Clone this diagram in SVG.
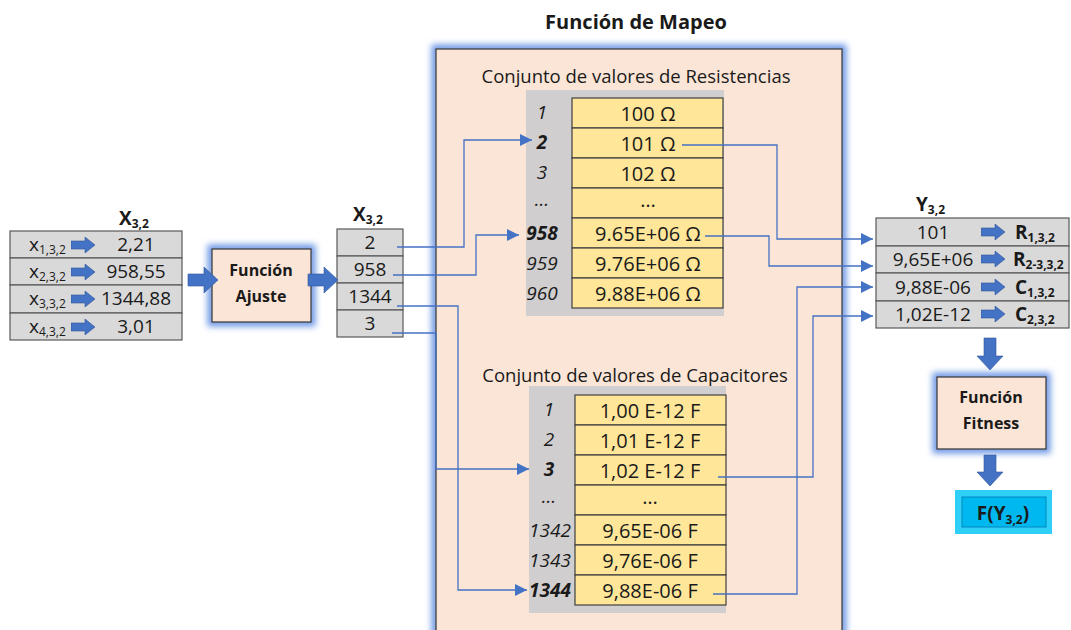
<svg xmlns="http://www.w3.org/2000/svg" width="1071" height="630" viewBox="0 0 1071 630">
  <defs>
    <style>
      text { font-family: "Open Sans", "Noto Sans", "Liberation Sans", sans-serif; fill: #1a1a1a; }
      .v { font-size: 19px; }
      .w { font-size: 20px; }
      .cap { font-size: 18.5px; }
      .box { font-size: 16px; font-weight: bold; }
      .hd { font-size: 19px; font-weight: bold; }
      .ttl { font-size: 20px; font-weight: bold; }
      .sub { font-size: 12px; }
      .b { font-weight: bold; }
      .it { font-style: italic; }
      .mid { text-anchor: middle; }
      .cellG { fill: #D9D9D9; stroke: #595959; stroke-width: 1.2; }
      .cellY { fill: #FFE699; stroke: #404040; stroke-width: 1.2; }
      .panel { fill: #FBE5D6; stroke: #404040; stroke-width: 1.3; }
      .halo { fill: none; stroke: #6E98E6; stroke-width: 9; }
      .wire { fill: none; stroke: #4472C4; stroke-width: 1.3; }
      .blk { fill: #4472C4; stroke: #2F5597; stroke-width: 0.6; }
    </style>
    <filter id="soft" x="-20%" y="-20%" width="140%" height="140%">
      <feGaussianBlur stdDeviation="3"/>
    </filter>
    <marker id="tip" markerUnits="userSpaceOnUse" markerWidth="12" markerHeight="12" refX="12" refY="6" orient="auto">
      <path d="M0,0 L12,6 L0,12 Z" fill="#4472C4"/>
    </marker>
    <!-- small block arrow used inside the value tables -->
    <symbol id="smallArrow" viewBox="0 0 24 16" width="24" height="16">
      <path d="M0,4 H14 V0 L24,8 L14,16 V12 H0 Z" fill="#4472C4" stroke="#2F5597" stroke-width="0.6"/>
    </symbol>
  </defs>

  <rect width="1071" height="630" fill="#ffffff"/>

  <!-- Mapping panel -->
  <g id="mapeo">
    <rect x="436" y="49" width="406" height="600" class="halo" filter="url(#soft)"/>
    <rect x="436" y="49" width="406" height="600" class="panel"/>
    <text x="636" y="29" class="ttl mid">Función de Mapeo</text>
  </g>

  <!-- Input vector -->
  <g id="x-input">
    <text x="119" y="225" class="hd">X<tspan class="sub b" dy="3">3,2</tspan></text>
    <rect x="10" y="231" width="172" height="27" class="cellG"/>
    <rect x="10" y="258" width="172" height="27" class="cellG"/>
    <rect x="10" y="285" width="172" height="28" class="cellG"/>
    <rect x="10" y="313" width="172" height="27" class="cellG"/>
    <text x="29" y="251" class="v">x<tspan class="sub" dy="3">1,3,2</tspan></text>
    <text x="29" y="278" class="v">x<tspan class="sub" dy="3">2,3,2</tspan></text>
    <text x="29" y="305" class="v">x<tspan class="sub" dy="3">3,3,2</tspan></text>
    <text x="29" y="333" class="v">x<tspan class="sub" dy="3">4,3,2</tspan></text>
    <use href="#smallArrow" x="71" y="237"/>
    <use href="#smallArrow" x="71" y="264"/>
    <use href="#smallArrow" x="71" y="291"/>
    <use href="#smallArrow" x="71" y="319"/>
    <text x="136" y="251" class="v mid">2,21</text>
    <text x="136" y="278" class="v mid">958,55</text>
    <text x="136" y="305" class="v mid">1344,88</text>
    <text x="136" y="333" class="v mid">3,01</text>
  </g>

  <!-- Adjustment function -->
  <g id="ajuste">
    <rect x="212" y="249" width="99" height="73" class="halo" filter="url(#soft)"/>
    <rect x="212" y="249" width="99" height="73" class="panel"/>
    <text x="261" y="276" class="box mid">Función</text>
    <text x="261" y="302" class="box mid">Ajuste</text>
  </g>

  <!-- Adjusted vector -->
  <g id="x-adjusted">
    <text x="353" y="221" class="hd">X<tspan class="sub b" dy="3">3,2</tspan></text>
    <rect x="337" y="229" width="66" height="27" class="cellG"/>
    <rect x="337" y="256" width="66" height="27" class="cellG"/>
    <rect x="337" y="283" width="66" height="27" class="cellG"/>
    <rect x="337" y="310" width="66" height="27" class="cellG"/>
    <text x="370" y="249" class="v mid">2</text>
    <text x="370" y="276" class="v mid">958</text>
    <text x="370" y="303" class="v mid">1344</text>
    <text x="370" y="330" class="v mid">3</text>
  </g>

  <!-- Resistor value set -->
  <g id="resistencias">
    <text x="636" y="83" class="cap mid">Conjunto de valores de Resistencias</text>
    <rect x="526" y="90" width="198" height="226" fill="#D0CECE"/>
    <rect x="572" y="98" width="151" height="30" class="cellY"/>
    <rect x="572" y="128" width="151" height="30" class="cellY"/>
    <rect x="572" y="158" width="151" height="30" class="cellY"/>
    <rect x="572" y="188" width="151" height="30" class="cellY"/>
    <rect x="572" y="218" width="151" height="30" class="cellY"/>
    <rect x="572" y="248" width="151" height="30" class="cellY"/>
    <rect x="572" y="278" width="151" height="30" class="cellY"/>
    <g class="v it">
      <text x="542" y="119" class="mid">1</text>
      <text x="542" y="149" class="mid b">2</text>
      <text x="542" y="179" class="mid">3</text>
      <text x="542" y="206" class="mid">…</text>
      <text x="542" y="240" class="mid b">958</text>
      <text x="542" y="270" class="mid">959</text>
      <text x="542" y="300" class="mid">960</text>
    </g>
    <g class="w">
      <text x="648" y="121" class="mid">100 Ω</text>
      <text x="648" y="151" class="mid">101 Ω</text>
      <text x="648" y="181" class="mid">102 Ω</text>
      <text x="648" y="207" class="mid">…</text>
      <text x="648" y="241" class="mid">9.65E+06 Ω</text>
      <text x="648" y="271" class="mid">9.76E+06 Ω</text>
      <text x="648" y="301" class="mid">9.88E+06 Ω</text>
    </g>
  </g>

  <!-- Capacitor value set -->
  <g id="capacitores">
    <text x="635" y="382" class="cap mid">Conjunto de valores de Capacitores</text>
    <rect x="529" y="386" width="197" height="227" fill="#D0CECE"/>
    <rect x="575" y="395" width="151" height="30" class="cellY"/>
    <rect x="575" y="425" width="151" height="30" class="cellY"/>
    <rect x="575" y="455" width="151" height="30" class="cellY"/>
    <rect x="575" y="485" width="151" height="30" class="cellY"/>
    <rect x="575" y="515" width="151" height="30" class="cellY"/>
    <rect x="575" y="545" width="151" height="30" class="cellY"/>
    <rect x="575" y="575" width="151" height="30" class="cellY"/>
    <g class="v it">
      <text x="549" y="416" class="mid">1</text>
      <text x="549" y="446" class="mid">2</text>
      <text x="549" y="476" class="mid b">3</text>
      <text x="549" y="503" class="mid">…</text>
      <text x="550" y="537" class="mid">1342</text>
      <text x="550" y="567" class="mid">1343</text>
      <text x="550" y="597" class="mid b">1344</text>
    </g>
    <g class="w">
      <text x="650" y="418" class="mid">1,00 E-12 F</text>
      <text x="650" y="448" class="mid">1,01 E-12 F</text>
      <text x="650" y="478" class="mid">1,02 E-12 F</text>
      <text x="650" y="504" class="mid">…</text>
      <text x="650" y="538" class="mid">9,65E-06 F</text>
      <text x="650" y="568" class="mid">9,76E-06 F</text>
      <text x="650" y="598" class="mid">9,88E-06 F</text>
    </g>
  </g>

  <!-- Output vector -->
  <g id="y-output">
    <text x="916" y="211" class="hd">Y<tspan class="sub b" dy="3">3,2</tspan></text>
    <rect x="876" y="218" width="193" height="28" class="cellG"/>
    <rect x="876" y="246" width="193" height="27" class="cellG"/>
    <rect x="876" y="273" width="193" height="28" class="cellG"/>
    <rect x="876" y="301" width="193" height="27" class="cellG"/>
    <text x="933" y="239" class="v mid">101</text>
    <text x="933" y="266" class="v mid">9,65E+06</text>
    <text x="933" y="294" class="v mid">9,88E-06</text>
    <text x="933" y="321" class="v mid">1,02E-12</text>
    <use href="#smallArrow" x="981" y="224"/>
    <use href="#smallArrow" x="981" y="251"/>
    <use href="#smallArrow" x="981" y="279"/>
    <use href="#smallArrow" x="981" y="306"/>
    <text x="1015" y="239" class="v b">R<tspan class="sub" dy="3">1,3,2</tspan></text>
    <text x="1013" y="266" class="v b">R<tspan class="sub" dy="3">2-3,3,2</tspan></text>
    <text x="1015" y="294" class="v b">C<tspan class="sub" dy="3">1,3,2</tspan></text>
    <text x="1015" y="321" class="v b">C<tspan class="sub" dy="3">2,3,2</tspan></text>
  </g>

  <!-- Fitness function -->
  <g id="fitness">
    <rect x="937" y="377" width="109" height="72" class="halo" filter="url(#soft)"/>
    <rect x="937" y="377" width="109" height="72" class="panel"/>
    <text x="991" y="403" class="box mid">Función</text>
    <text x="991" y="429" class="box mid">Fitness</text>
  </g>

  <!-- Fitness value -->
  <g id="fitness-value">
    <rect x="955" y="490" width="97" height="44" fill="#2FD0F8"/>
    <rect x="962" y="497" width="84" height="30" fill="#00B8F0" stroke="#0088C0" stroke-width="1"/>
    <text x="1003" y="520" class="hd mid">F(Y<tspan class="sub" dy="4">3,2</tspan><tspan dy="-4">)</tspan></text>
  </g>

  <!-- Connectors -->
  <g id="connectors">
    <!-- block arrows between stages -->
    <path class="blk" d="M188,274 H204 V267 L218,280 L204,293 V286 H188 Z"/>
    <path class="blk" d="M308,274 H324 V267 L338,280 L324,293 V286 H308 Z"/>
    <path class="blk" d="M984,338 H996 V356 H1003 L990,370 L977,356 H984 Z"/>
    <path class="blk" d="M984,455 H996 V472 H1003 L990,486 L977,472 H984 Z"/>
    <!-- index lookups -->
    <path class="wire" d="M397,247 H464 V140 H532" marker-end="url(#tip)"/>
    <path class="wire" d="M393,275 H476 V235 H519" marker-end="url(#tip)"/>
    <path class="wire" d="M397,306 H458 V590 H527" marker-end="url(#tip)"/>
    <path class="wire" d="M392,333 H436 V469 H529" marker-end="url(#tip)"/>
    <!-- selected values to output vector -->
    <path class="wire" d="M682,145 H777 V239 H873" marker-end="url(#tip)"/>
    <path class="wire" d="M705,236 H769 V266 H873" marker-end="url(#tip)"/>
    <path class="wire" d="M713,594 H797 V287 H873" marker-end="url(#tip)"/>
    <path class="wire" d="M718,477 H813 V316 H873" marker-end="url(#tip)"/>
  </g>
</svg>
